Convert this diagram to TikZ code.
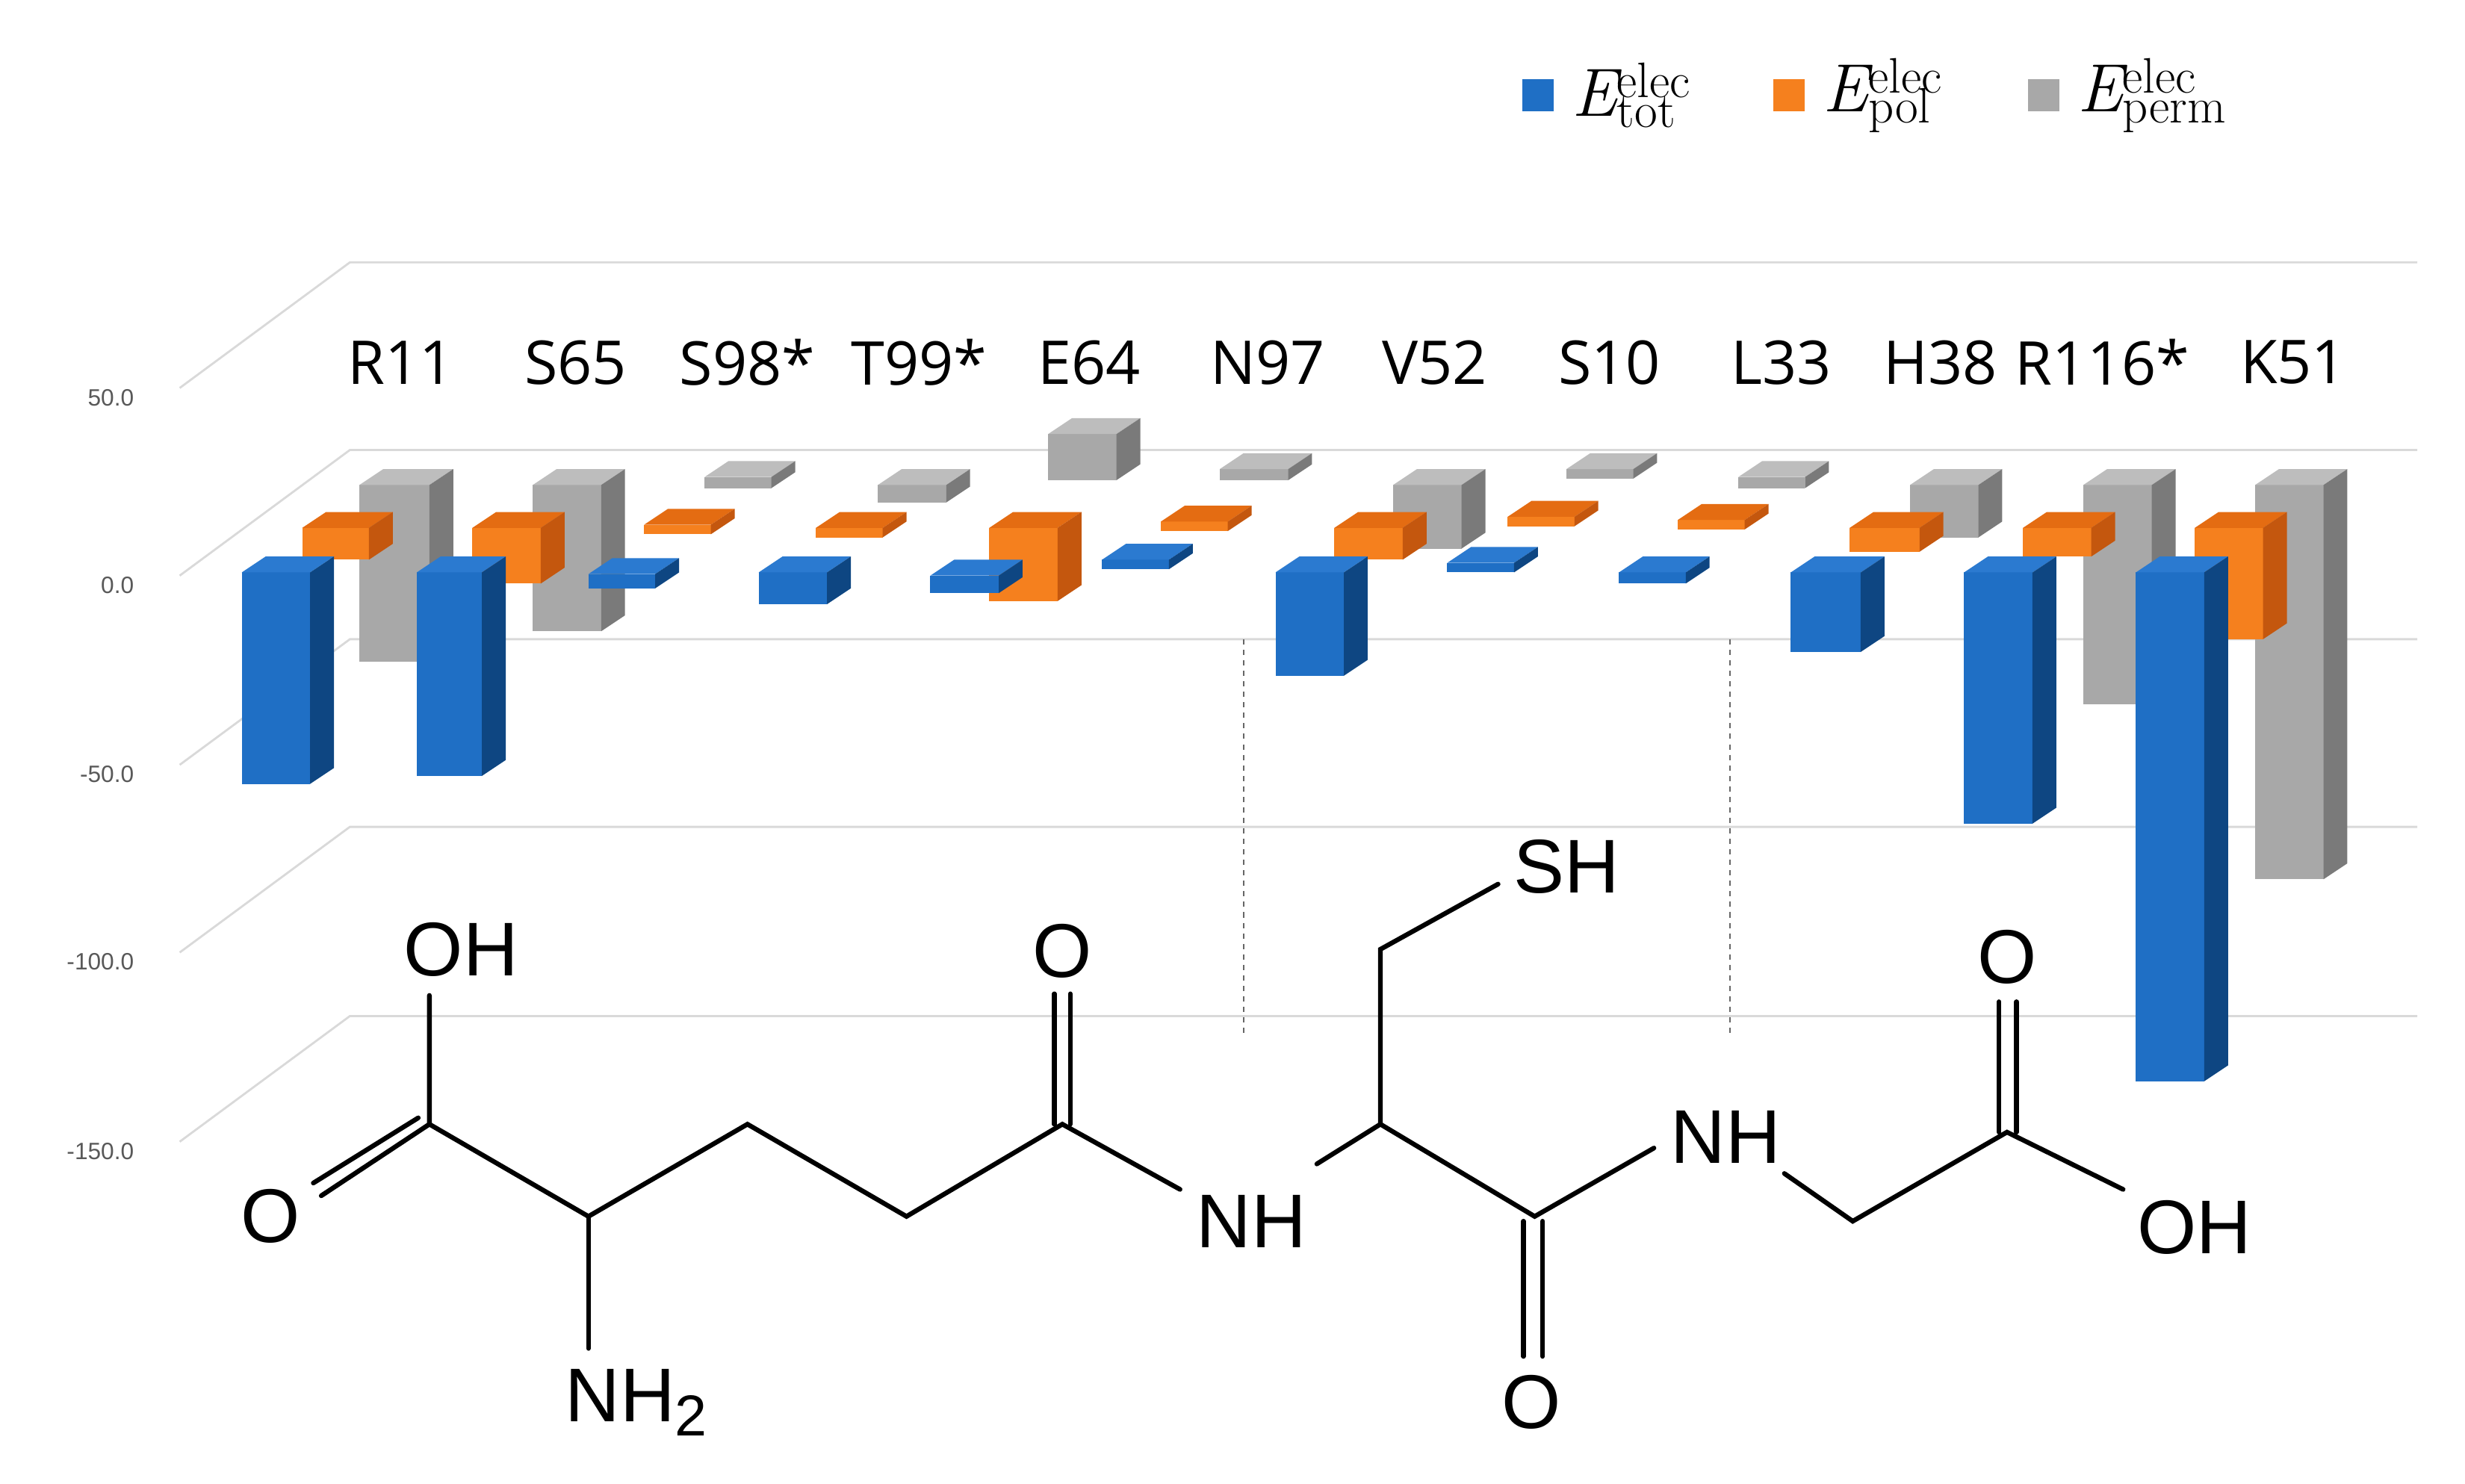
\documentclass[tikz,border=0pt]{standalone}
\usepackage{fontspec}
\setmainfont{Liberation Sans}
\newfontfamily\resfont{Open Sans}
\newfontfamily\lmr{Latin Modern Roman}
\definecolor{blueF}{HTML}{1F6FC5}\definecolor{blueS}{HTML}{0E4682}\definecolor{blueT}{HTML}{2B7AD0}
\definecolor{oranF}{HTML}{F5801E}\definecolor{oranS}{HTML}{C4570E}\definecolor{oranT}{HTML}{E46C12}
\definecolor{grayF}{HTML}{A8A8A8}\definecolor{grayS}{HTML}{7A7A7A}\definecolor{grayT}{HTML}{BDBDBD}
\newcommand\cbox[5]{%
 \fill[#5F] (#1,#3) rectangle (#2,#4);
 \fill[#5T] (#1,#3) -- ++(15,-10) -- ($(#2,#3)+(15,-10)$) -- (#2,#3) -- cycle;
 \fill[#5S] (#2,#3) -- ++(15,-10) -- ($(#2,#4)+(15,-10)$) -- (#2,#4) -- cycle;}
\newcommand\legE[2]{{\lmr\fontsize{26}{26}\selectfont\itshape E}\rlap{\raisebox{1.35ex}{\lmr\fontsize{19}{19}\selectfont #1}}{\raisebox{-0.8ex}{\lmr\fontsize{19}{19}\selectfont #2}}}
\usetikzlibrary{calc}
\begin{document}
\begin{tikzpicture}[x=0.02129cm,y=-0.02129cm,
 grid/.style={draw=black!15,line width=0.8pt},
 axlab/.style={font=\fontsize{9}{9}\selectfont,text=black!65,anchor=east},
 res/.style={font=\resfont\fontsize{23}{23}\selectfont},
 atom/.style={font=\fontsize{29}{29}\selectfont},
 bond/.style={line width=1.8pt,line cap=round},
 leg/.style={anchor=west,inner sep=0pt}]
\useasboundingbox (0,0) rectangle (1550,933);
% grid
\foreach \yl in {250,368,487,605,724}{
 \draw[grid] (113,\yl-6) -- (220,\yl-85) -- (1520,\yl-85);}
\node[axlab] at (90,250) {50.0};
\node[axlab] at (90,368) {0.0};
\node[axlab] at (90,487) {-50.0};
\node[axlab] at (90,605) {-100.0};
\node[axlab] at (90,724) {-150.0};
% legend
\fill[blueF] (957,50) rectangle (977,70);
\node[leg] (l1) at (988,60) {\legE{elec}{tot}};
\fill[oranF] (1115,50) rectangle (1135,70);
\node[leg] (l2) at (1146,60) {\legE{elec}{pol}};
\fill[grayF] (1275,50) rectangle (1295,70);
\node[leg] (l3) at (1306,60) {\legE{elec}{perm}};
% residue labels
\foreach \x/\t in {252/R11,362/S65,470/S98*,578/T99*,685/E64,797/N97,902/V52,1012/S10,1120/L33,1220/H38,1322/R116*,1442/K51}
 \node[res] at (\x,228) {\t};
% gray bars (back)
\cbox{226}{270}{305}{416}{gray}
\cbox{335}{378}{305}{397}{gray}
\cbox{443}{485}{300}{307}{gray}
\cbox{552}{595}{305}{316}{gray}
\cbox{659}{702}{273}{302}{gray}
\cbox{767}{810}{295}{302}{gray}
\cbox{876}{919}{305}{345}{gray}
\cbox{985}{1027}{295}{301}{gray}
\cbox{1093}{1135}{300}{307}{gray}
\cbox{1201}{1244}{305}{338}{gray}
\cbox{1310}{1353}{305}{443}{gray}
\cbox{1418}{1461}{305}{553}{gray}
% orange bars (middle)
\cbox{190}{232}{332}{352}{oran}
\cbox{297}{340}{332}{367}{oran}
\cbox{405}{447}{330}{336}{oran}
\cbox{513}{555}{332}{338}{oran}
\cbox{622}{665}{332}{378}{oran}
\cbox{730}{772}{328}{334}{oran}
\cbox{839}{882}{332}{352}{oran}
\cbox{948}{990}{325}{331}{oran}
\cbox{1055}{1097}{327}{333}{oran}
\cbox{1163}{1207}{332}{347}{oran}
\cbox{1272}{1315}{332}{350}{oran}
\cbox{1380}{1423}{332}{402}{oran}
% blue bars (front)
\cbox{152}{195}{360}{493}{blue}
\cbox{262}{303}{360}{488}{blue}
\cbox{370}{412}{361}{370}{blue}
\cbox{477}{520}{360}{380}{blue}
\cbox{585}{628}{362}{373}{blue}
\cbox{693}{735}{352}{358}{blue}
\cbox{802}{845}{360}{425}{blue}
\cbox{910}{952}{354}{360}{blue}
\cbox{1018}{1060}{360}{367}{blue}
\cbox{1126}{1170}{360}{410}{blue}
\cbox{1235}{1278}{360}{518}{blue}
\cbox{1343}{1386}{360}{680}{blue}
% dotted lines
\draw[black!60,dash pattern=on 2pt off 2pt,line width=0.6pt] (782,402) -- (782,650);
\draw[black!60,dash pattern=on 2pt off 2pt,line width=0.6pt] (1088,402) -- (1088,650);
% molecule
\node[atom] (oh1) at (290,597) {OH};
\node[atom] (o1) at (170,765) {O};
\node[atom] (nh2) at (400,882) {NH\raisebox{-0.35ex}{\fontsize{22}{22}\selectfont 2}};
\node[atom] (o2) at (668,598) {O};
\node[atom] (nh1) at (787,768) {NH};
\node[atom] (sh) at (985,545) {SH};
\node[atom] (o3) at (963,882) {O};
\node[atom] (nh3) at (1085,715) {NH};
\node[atom] (o4) at (1262,602) {O};
\node[atom] (oh2) at (1380,772) {OH};
\coordinate (c1) at (270,707);
\coordinate (ca) at (370,765);
\coordinate (cb) at (470,707);
\coordinate (cg) at (570,765);
\coordinate (cd) at (668,707);
\coordinate (cc) at (868,707);
\coordinate (cs) at (868,597);
\coordinate (ce) at (965,765);
\coordinate (cg1) at (1165,768);
\coordinate (cg2) at (1262,712);
\draw[bond] (270,626) -- (c1) -- (ca) -- (cb) -- (cg) -- (cd) -- (742,748);
\draw[bond] (202,752) -- (c1);
\draw[bond] (197,744) -- (263,703);
\draw[bond] (ca) -- (370,848);
\draw[bond] (663,707) -- (663,625); \draw[bond] (673,707) -- (673,625);
\draw[bond] (828,732) -- (cc) -- (cs) -- (942,556);
\draw[bond] (cc) -- (ce) -- (1040,722);
\draw[bond] (958,768) -- (958,853); \draw[bond] (970,768) -- (970,853);
\draw[bond] (1122,738) -- (cg1) -- (cg2) -- (1335,748);
\draw[bond] (1257,712) -- (1257,630); \draw[bond] (1268,712) -- (1268,630);
\end{tikzpicture}
\end{document}
